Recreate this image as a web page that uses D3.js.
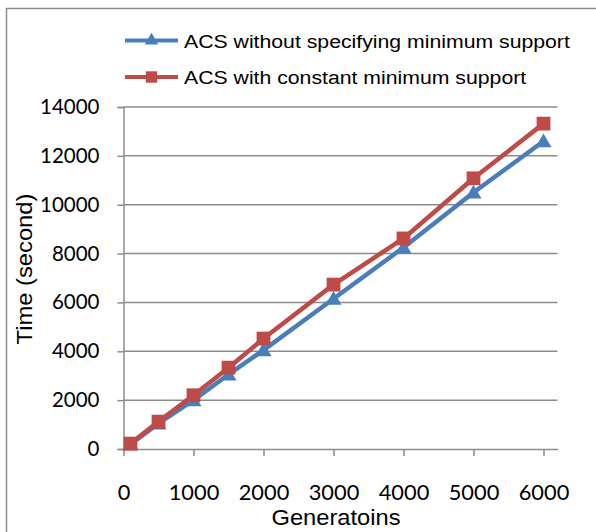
<!DOCTYPE html>
<html>
<head>
<meta charset="utf-8">
<script src="https://cdn.jsdelivr.net/npm/d3@7"></script>
<style>
  html, body { margin: 0; padding: 0; background: #fff; }
  svg { display: block; }
</style>
</head>
<body>
<svg id="chart" width="596" height="532"></svg>
<script>
// Generations run and elapsed time (seconds) for each ACS variant
const generations = [100, 500, 1000, 1500, 2000, 3000, 4000, 5000, 6000];
const timeNoMinSupport = [200, 1050, 2000, 3050, 4050, 6150, 8250, 10500, 12600];
const timeConstMinSupport = [220, 1120, 2200, 3330, 4520, 6730, 8620, 11080, 13320];
const seriesNames = ["ACS without specifying minimum support", "ACS with constant minimum support"];
const xTicks = [0, 1000, 2000, 3000, 4000, 5000, 6000];
const yTicks = [0, 2000, 4000, 6000, 8000, 10000, 12000, 14000];

const blue = "#4a7ebb";
const red = "#be4b48";
const gridColor = "#8c8c8c";
const tickFont = "Lato, 'Open Sans', sans-serif";
const titleFont = "'Liberation Sans', Arial, sans-serif";

const svg = d3.select("#chart");

// outer chart frame (runs off the right and bottom edges)
svg.append("rect")
  .attr("x", 6.5).attr("y", 8.5)
  .attr("width", 620).attr("height", 620)
  .attr("fill", "none").attr("stroke", "#8a8a8a").attr("stroke-width", 1.5);

const x = d3.scaleLinear().domain([0, 6200]).range([123.5, 557.5]);
const y = d3.scaleLinear().domain([0, 14000]).range([449, 107]);

// horizontal gridlines
svg.append("g").selectAll("line").data(yTicks.filter(d => d > 0)).join("line")
  .attr("x1", x(0)).attr("x2", x(6200))
  .attr("y1", d => y(d)).attr("y2", d => y(d))
  .attr("stroke", gridColor).attr("stroke-width", 1.5);

// y axis
const yAxis = svg.append("g")
  .attr("transform", `translate(${x(0)},0)`)
  .call(d3.axisLeft(y).tickValues(yTicks).tickSize(6).tickPadding(18).tickFormat(d3.format("d")));
yAxis.select(".domain").attr("stroke", gridColor).attr("stroke-width", 1.5);
yAxis.selectAll(".tick line").attr("stroke", gridColor).attr("stroke-width", 1.5);
yAxis.selectAll("text")
  .attr("font-family", tickFont)
  .attr("font-size", 20.5).attr("fill", "#000");

// x axis
const xAxis = svg.append("g")
  .attr("transform", `translate(0,${y(0)})`)
  .call(d3.axisBottom(x).tickValues(xTicks).tickSize(7).tickPadding(29).tickSizeOuter(0).tickFormat(d3.format("d")));
xAxis.select(".domain").attr("stroke", gridColor).attr("stroke-width", 1.5);
xAxis.selectAll(".tick line").attr("stroke", gridColor).attr("stroke-width", 1.5);
xAxis.selectAll("text")
  .attr("font-family", tickFont)
  .attr("font-size", 21.8).attr("fill", "#000");

// axis titles
svg.append("text")
  .attr("transform", "translate(336,525) scale(1.077,1)")
  .attr("text-anchor", "middle")
  .attr("font-family", titleFont)
  .attr("font-size", 22).attr("fill", "#000")
  .text("Generatoins");

svg.append("text")
  .attr("transform", "translate(32,269) rotate(-90) scale(1.08,1)")
  .attr("text-anchor", "middle")
  .attr("font-family", titleFont)
  .attr("font-size", 22).attr("fill", "#000")
  .text("Time (second)");

const line = d3.line().x(d => x(d[0])).y(d => y(d[1]));
const triangle = d3.symbol().type(d3.symbolTriangle).size(110);
const square = d3.symbol().type(d3.symbolSquare).size(190);

const series = [
  { name: seriesNames[0], values: timeNoMinSupport, color: blue, symbol: triangle, dy: 1.5 },
  { name: seriesNames[1], values: timeConstMinSupport, color: red, symbol: square, dy: 0 }
];

series.forEach(s => {
  const pts = generations.map((g, i) => [g, s.values[i]]);
  svg.append("path")
    .datum(pts)
    .attr("d", line)
    .attr("fill", "none")
    .attr("stroke", s.color)
    .attr("stroke-width", 4.5)
    .attr("stroke-linejoin", "round");
  svg.append("g").selectAll("path").data(pts).join("path")
    .attr("d", s.symbol)
    .attr("transform", d => `translate(${x(d[0])},${y(d[1]) + s.dy})`)
    .attr("fill", s.color);
});

// legend
const legend = svg.append("g");
series.forEach((s, i) => {
  const ly = 40.5 + i * 36.5;
  legend.append("line")
    .attr("x1", 125).attr("x2", 178)
    .attr("y1", ly).attr("y2", ly)
    .attr("stroke", s.color).attr("stroke-width", 4);
  legend.append("path")
    .attr("d", i === 0 ? d3.symbol().type(d3.symbolTriangle).size(80)() : d3.symbol().type(d3.symbolSquare).size(130)())
    .attr("transform", `translate(151.5,${ly})`)
    .attr("fill", s.color);
  legend.append("text")
    .attr("transform", `translate(184,${ly + 7}) scale(1.118,1)`)
    .attr("font-family", titleFont)
    .attr("font-size", 19).attr("fill", "#000")
    .text(s.name);
});
</script>
</body>
</html>
